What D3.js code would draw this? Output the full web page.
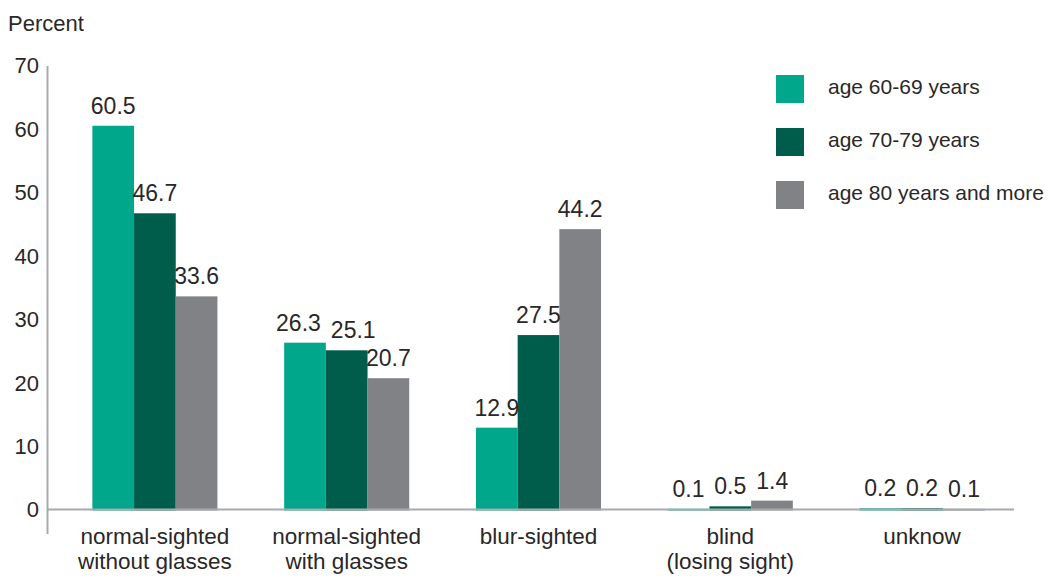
<!DOCTYPE html>
<html>
<head>
<meta charset="utf-8">
<script src="https://cdn.jsdelivr.net/npm/d3@7"></script>
<style>
  html, body { margin: 0; padding: 0; background: #fff; }
  svg { display: block; }
  text { font-family: "Liberation Sans", Arial, Helvetica, sans-serif; fill: #2a2728; }
</style>
</head>
<body>
<svg id="chart" width="1049" height="580"></svg>
<script>
// ---- data ----
const categories = [
  ["normal-sighted", "without glasses"],
  ["normal-sighted", "with glasses"],
  ["blur-sighted"],
  ["blind", "(losing sight)"],
  ["unknow"]
];
const seriesNames = ["age 60-69 years", "age 70-79 years", "age 80 years and more"];
const age6069 = [60.5, 26.3, 12.9, 0.1, 0.2];
const age7079 = [46.7, 25.1, 27.5, 0.5, 0.2];
const age80plus = [33.6, 20.7, 44.2, 1.4, 0.1];
const yTicks = [0, 10, 20, 30, 40, 50, 60, 70];
const yLabel = "Percent";

// ---- layout ----
const colors = ["#00a78b", "#005c4b", "#808285"];
const series = [age6069, age7079, age80plus];
const svg = d3.select("#chart");

const y = d3.scaleLinear().domain([0, 70]).range([509.5, 65.5]);
const catIdx = categories.map((d, i) => i);
const x0 = d3.scaleBand().domain(catIdx).range([59, 1018]).paddingInner(0.348).paddingOuter(0.174);
const x1 = d3.scaleBand().domain([0, 1, 2]).range([0, x0.bandwidth()]);

// axis title
svg.append("text").attr("x", 8).attr("y", 31).style("font-size", "22px").text(yLabel);

// y tick labels
svg.append("g").selectAll("text").data(yTicks).join("text")
  .attr("x", 39).attr("y", d => y(d)).attr("dy", "0.36em")
  .attr("text-anchor", "end").style("font-size", "22px")
  .text(d => d);

// bars
const g = svg.append("g");
series.forEach((vals, s) => {
  g.selectAll(null).data(vals).join("rect")
    .attr("x", (d, i) => x0(i) + x1(s))
    .attr("width", x1.bandwidth())
    .attr("y", d => y(d))
    .attr("height", d => y(0) - y(d) + 1)
    .attr("fill", colors[s]);
});

// axes lines
svg.append("line").attr("x1", 47.5).attr("x2", 47.5).attr("y1", 66).attr("y2", 534)
  .attr("stroke", "#a7a9ac").attr("stroke-width", 2);
svg.append("line").attr("x1", 47).attr("x2", 1014).attr("y1", y(0)).attr("y2", y(0))
  .attr("stroke", "#a7a9ac").attr("stroke-width", 2);

// value labels
const labelGroups = categories.map(() => []);
series.forEach((vals, s) => {
  svg.append("g").selectAll("text").data(vals).join("text")
    .attr("x", (d, i) => x0(i) + x1(s) + x1.bandwidth() / 2)
    .attr("y", d => y(d) - 12)
    .attr("text-anchor", "middle").style("font-size", "23px")
    .text(d => d.toFixed(1))
    .each(function(d, i) { labelGroups[i].push(this); });
});
// simple collision avoidance between neighbouring labels within a group
labelGroups.forEach(nodes => {
  for (let k = 0; k < nodes.length - 1; k++) {
    const a = nodes[k], b = nodes[k + 1];
    const ay = +a.getAttribute("y"), by = +b.getAttribute("y");
    if (Math.abs(ay - by) > 22) continue;
    const ax = +a.getAttribute("x"), bx = +b.getAttribute("x");
    const need = (a.getComputedTextLength() + b.getComputedTextLength()) / 2 + 10;
    const gap = bx - ax;
    if (gap < need) {
      const shift = (need - gap) / 2;
      a.setAttribute("x", ax - shift);
      b.setAttribute("x", bx + shift);
    }
  }
});

// category labels
const cl = svg.append("g").selectAll("text").data(categories).join("text")
  .attr("x", (d, i) => x0(i) + x0.bandwidth() / 2)
  .attr("y", 544)
  .attr("text-anchor", "middle").style("font-size", "22.5px");
cl.selectAll("tspan").data(d => d).join("tspan")
  .attr("x", function() { return d3.select(this.parentNode).attr("x"); })
  .attr("dy", (d, j) => j === 0 ? 0 : 25)
  .text(d => d);

// legend
const lg = svg.append("g").selectAll("g").data(seriesNames).join("g")
  .attr("transform", (d, i) => `translate(776, ${75 + i * 53})`);
lg.append("rect").attr("width", 28).attr("height", 28).attr("fill", (d, i) => colors[i]);
lg.append("text").attr("x", 52).attr("y", 12).attr("dy", "0.33em")
  .style("font-size", "21px").text(d => d);
</script>
</body>
</html>
